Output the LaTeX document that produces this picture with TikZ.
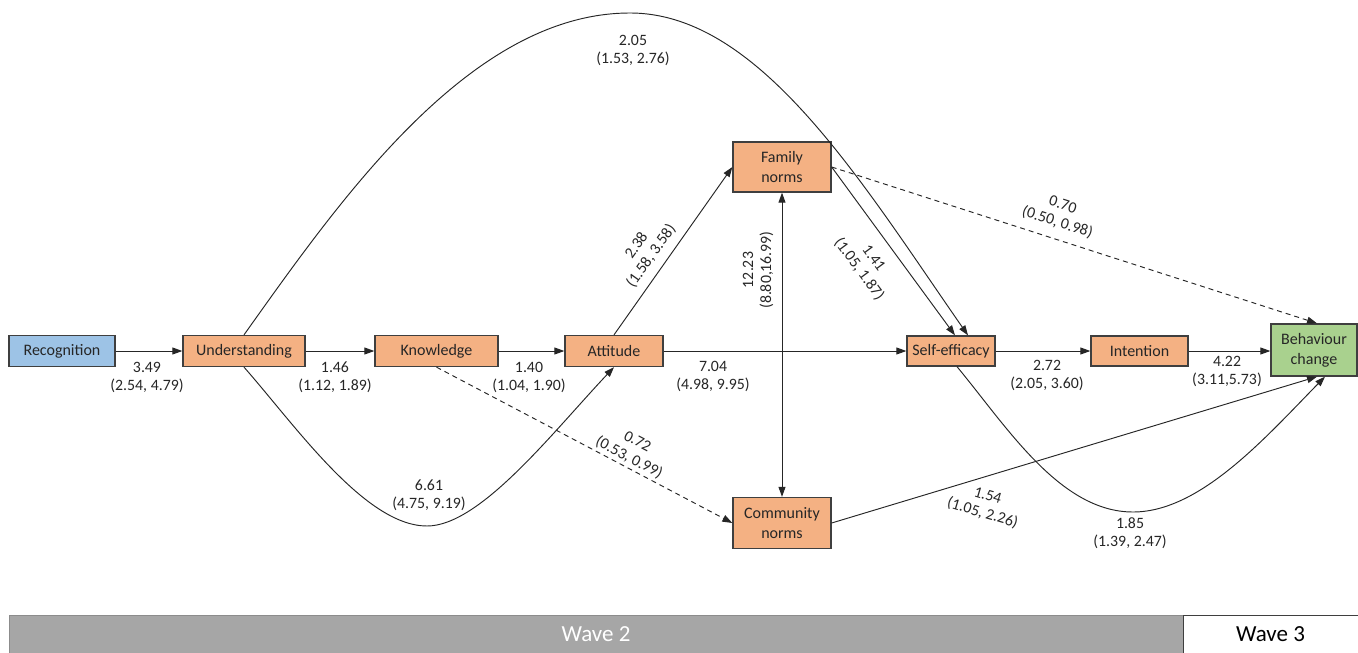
\documentclass[tikz,border=0pt]{standalone}
\usepackage{fontspec}
\setmainfont{Carlito}
\usetikzlibrary{arrows.meta,calc}
\definecolor{boxorange}{HTML}{F4B183}
\definecolor{boxblue}{HTML}{9DC3E6}
\definecolor{boxgreen}{HTML}{A9D18E}
\definecolor{boxedge}{HTML}{3F3F3F}
\definecolor{wavegray}{HTML}{A6A6A6}
\definecolor{inkcol}{HTML}{262626}
\tikzset{
  box/.style={draw=boxedge, line width=1.3pt, fill=boxorange, align=center, inner sep=0pt,
    font=\fontsize{16}{20}\selectfont, text=inkcol},
  lbl/.style={align=center, inner sep=0pt, font=\fontsize{15.8}{18}\selectfont, text=inkcol},
  conn/.style={line width=0.95pt, draw=inkcol, -{Triangle[length=10pt,width=7pt]}},
  dconn/.style={conn, dash pattern=on 5pt off 4pt},
  bconn/.style={line width=0.95pt, draw=inkcol, {Triangle[length=10pt,width=7pt]}-{Triangle[length=10pt,width=7pt]}},
  wavebox/.style={inner sep=0pt, font=\fontsize{23}{26}\selectfont},
}
\begin{document}
\begin{tikzpicture}[x=1pt,y=-1pt]
\useasboundingbox (0,0) rectangle (1358,653);
% nodes
\node[box, fill=boxblue, minimum width=106pt, minimum height=31pt] (rec) at (62,351) {Recognition};
\node[box, minimum width=122pt, minimum height=31pt] (und) at (244,351) {Understanding};
\node[box, minimum width=123pt, minimum height=31pt] (kno) at (436.5,351) {Knowledge};
\node[box, minimum width=98pt, minimum height=31pt] (att) at (614,351) {Attitude};
\node[box, minimum width=98pt, minimum height=50pt] (fam) at (782,167) {Family\\norms};
\node[box, minimum width=98pt, minimum height=51pt] (com) at (782,523) {Community\\norms};
\node[box, minimum width=88pt, minimum height=30pt] (sel) at (951,351) {Self-efficacy};
\node[box, minimum width=97pt, minimum height=30pt] (int) at (1139.5,351) {Intention};
\node[box, fill=boxgreen, minimum width=86pt, minimum height=52pt] (beh) at (1314,350) {Behaviour\\change};
% helper coordinates for curves
\coordinate (toppeak) at (630,13);
\coordinate (lowA) at (427,526);
\coordinate (lowB) at (1133,512);
% straight connectors
\draw[conn] (rec.east) -- (und.west);
\draw[conn] (und.east) -- (kno.west);
\draw[conn] (kno.east) -- (att.west);
\draw[conn] (att.east) -- (sel.west);
\draw[conn] (sel.east) -- (int.west);
\draw[conn] (int.east) -- (int.east -| beh.west);
\draw[conn] (att.north) -- (fam.west);
\draw[conn] (fam.east) -- ([xshift=4pt]sel.north);
\draw[dconn] (fam.east) -- ([xshift=3pt]beh.north);
\draw[conn] (com.east) -- ([xshift=3pt]beh.south);
\draw[dconn] (kno.south) -- (com.west);
\draw[bconn] (fam.south) -- (com.north);
% curved connectors
\draw[conn] (und.north) .. controls (340,200) and (470,13) .. (toppeak)
  .. controls (760,13) and (862,183) .. ([xshift=17pt]sel.north);
\draw[conn] (und.south) .. controls (295,425) and (365,526) .. (lowA)
  .. controls (480,526) and (552,433) .. (att.south);
\draw[conn] ([xshift=6pt]sel.south) .. controls (1007,427) and (1060,512) .. (lowB)
  .. controls (1200,512) and (1265,438) .. ([xshift=11pt]beh.south);
% labels
\node[lbl] (l1) at (147,377) {3.49\\(2.54, 4.79)};
\node[lbl] (l2) at (335,377) {1.46\\(1.12, 1.89)};
\node[lbl] (l3) at (529,377) {1.40\\(1.04, 1.90)};
\node[lbl] (l4) at (713,376) {7.04\\(4.98, 9.95)};
\node[lbl] (l5) at (1047,375) {2.72\\(2.05, 3.60)};
\node[lbl] (l6) at (1227,371) {4.22\\(3.11,5.73)};
\node[lbl] (l7) at (633,50) {2.05\\(1.53, 2.76)};
\node[lbl] (l8) at (429,495) {6.61\\(4.75, 9.19)};
\node[lbl] (l9) at (1130,533) {1.85\\(1.39, 2.47)};
\node[lbl, rotate=-27.6] (l10) at (633,450) {0.72\\(0.53, 0.99)};
\node[lbl, rotate=54.5] (l11) at (644,251) {2.38\\(1.58, 3.58)};
\node[lbl, rotate=90] (l12) at (758,270) {12.23\\(8.80,16.99)};
\node[lbl, rotate=-53.5] (l13) at (866,264) {1.41\\(1.05, 1.87)};
\node[lbl, rotate=-17.8] (l14) at (1060,214) {0.70\\(0.50, 0.98)};
\node[lbl, rotate=-16.7] (l15) at (985,505) {1.54\\(1.05, 2.26)};
% wave bar
\node[wavebox, draw=black!45, fill=wavegray, text=white, minimum width=1174pt, minimum height=38pt] (w2) at (596,634) {Wave 2};
\node[wavebox, draw=boxedge, fill=white, text=black, minimum width=175pt, minimum height=38pt] (w3) at (1270.5,634) {Wave 3};
\end{tikzpicture}
\end{document}
